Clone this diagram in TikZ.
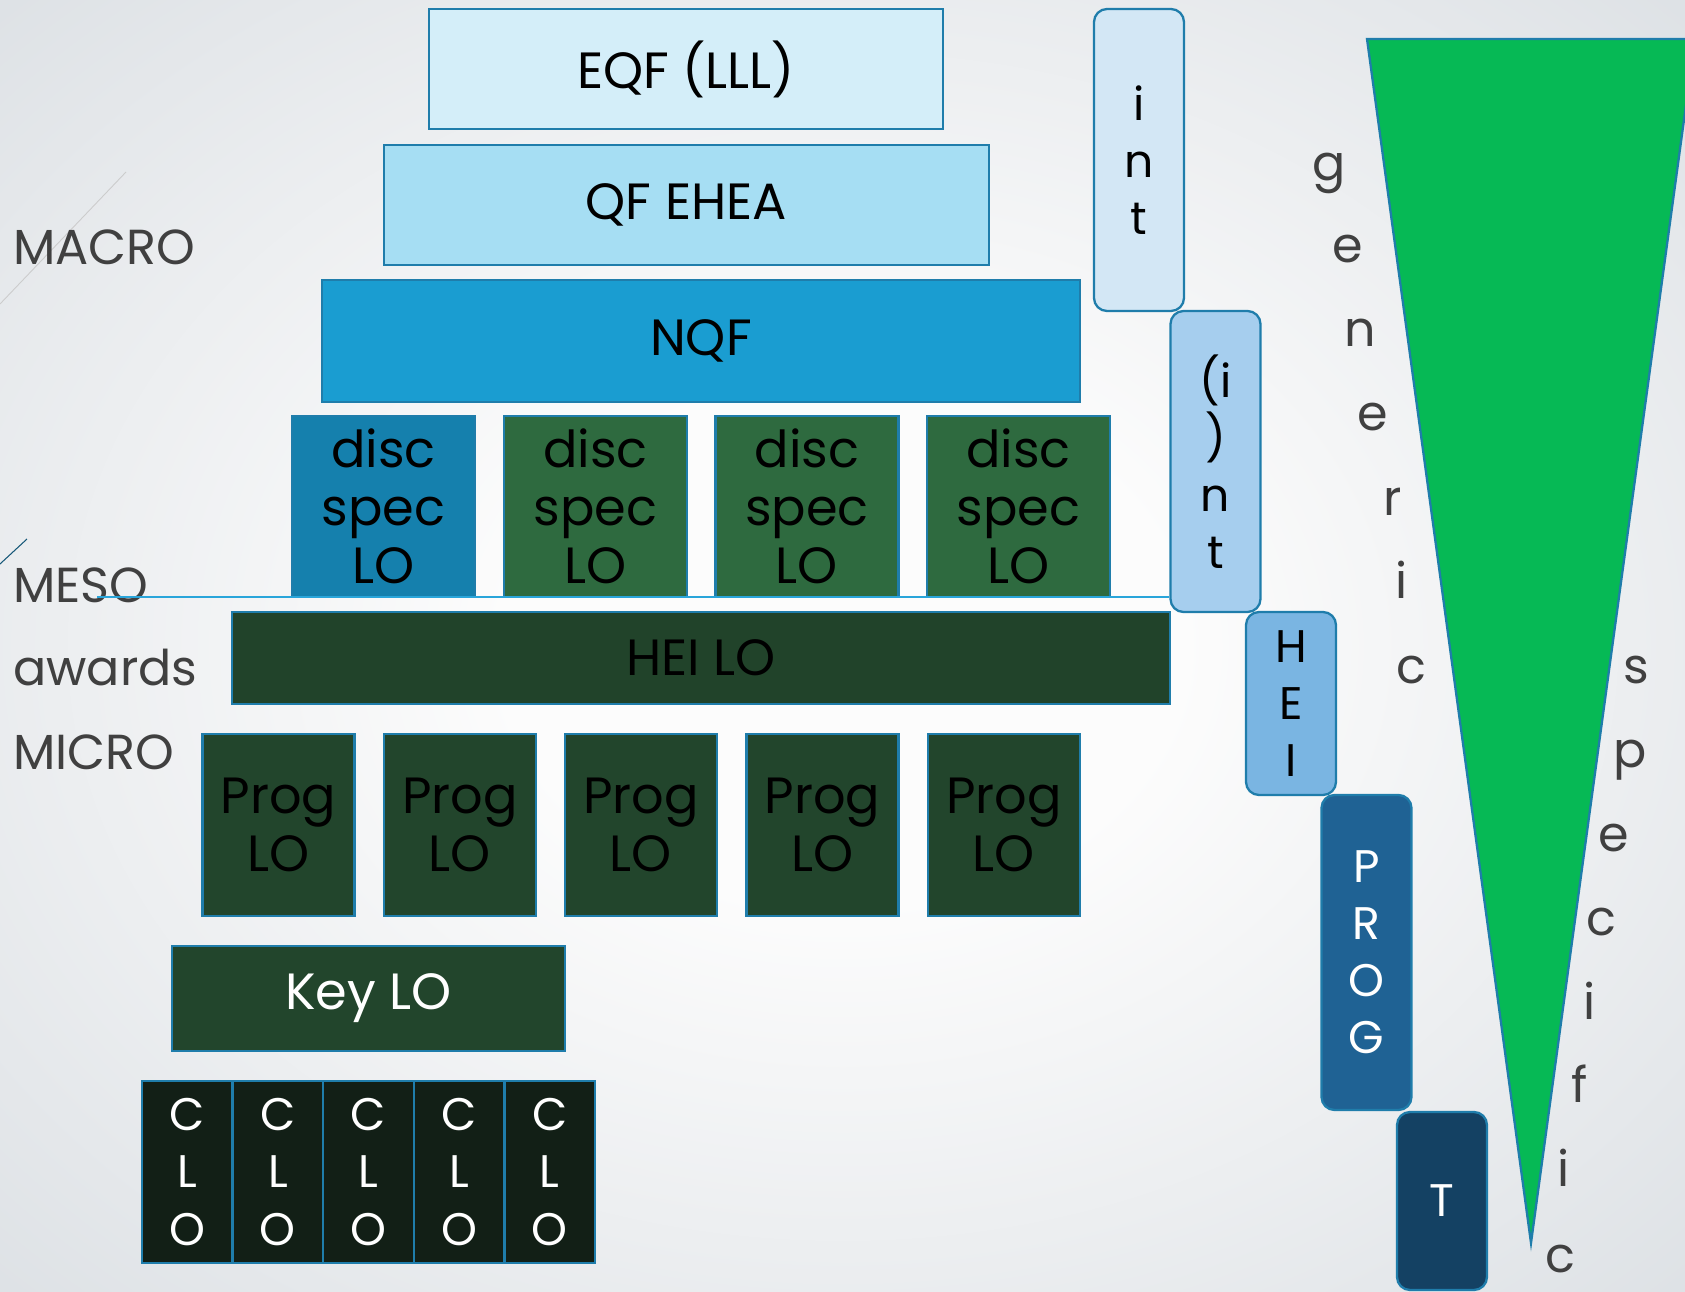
\documentclass[tikz,border=0pt]{standalone}
\usepackage{fontspec}
\setmainfont{Poppins}

\definecolor{edgeblue}{HTML}{1F7DAB}
\definecolor{eqffill}{HTML}{D4EEF9}
\definecolor{qffill}{HTML}{A6DEF3}
\definecolor{nqffill}{HTML}{1A9DD1}
\definecolor{discblue}{HTML}{1580AD}
\definecolor{discgreen}{HTML}{2E6A3F}
\definecolor{heigreen}{HTML}{21432A}
\definecolor{proggreen}{HTML}{22452C}
\definecolor{clofill}{HTML}{121F16}
\definecolor{intfill}{HTML}{D3E7F5}
\definecolor{iintfill}{HTML}{A6CEEE}
\definecolor{heifill}{HTML}{7AB5E2}
\definecolor{progfill}{HTML}{1F6294}
\definecolor{tfill}{HTML}{144163}
\definecolor{wedgegreen}{HTML}{06B955}
\definecolor{labelgrey}{HTML}{404040}
\definecolor{mesoblue}{HTML}{29A5DA}
\definecolor{bgmid}{HTML}{FCFCFC}
\definecolor{bgedge}{HTML}{DDE1E5}

% light slide backdrop, pale in the middle
\pgfdeclareradialshading{slidebg}{\pgfpoint{0bp}{0bp}}{%
  color(0bp)=(bgmid); color(10bp)=(bgmid); color(36bp)=(bgedge); color(50bp)=(bgedge)}

\newcommand\boxtext{\fontsize{29}{33}\selectfont}
\newcommand\lettertext{\fontsize{26}{32.5}\selectfont}
\newcommand\sidetext{\fontsize{28}{34}\selectfont}

\begin{document}
\begin{tikzpicture}[
        lvl/.style={draw=edgeblue, line width=1.3pt, inner sep=0pt, font=\boxtext, text=black},
        disc/.style={lvl, align=center, minimum width=3.66cm, minimum height=3.62cm},
        prog/.style={lvl, align=center, fill=proggreen, minimum width=3.04cm, minimum height=3.64cm},
        clo/.style={lvl, align=center, fill=clofill, text=white, font=\lettertext, minimum width=1.812cm, minimum height=3.64cm},
        bar/.style={draw=edgeblue, line width=1.3pt, rounded corners=0.26cm, inner sep=0pt, align=center, font=\lettertext, minimum width=1.8cm},
        side/.style={font=\sidetext, text=labelgrey, inner sep=0pt},
    ]
    % page and slide background
    \useasboundingbox (0,0) rectangle (33.70,-25.84);
    \shade[shading=slidebg] (0,0) rectangle (33.70,-25.84);
    \draw[color=black!20, line width=0.5pt] (0,-6.08) -- (2.52,-3.44);
    \draw[color=edgeblue!70!black, line width=0.6pt] (0,-11.28) -- (0.54,-10.78);

    % Column x-positions
    \def\dA{7.67}   % disc spec 1
    \def\dB{11.91}  % disc spec 2
    \def\dC{16.14}  % disc spec 3
    \def\dD{20.37}  % disc spec 4

    % ===== Frameworks =====
    \node[lvl, fill=eqffill, minimum width=10.28cm, minimum height=2.40cm] (eqf) at (13.72,-1.38) {EQF (LLL)};
    \node[lvl, fill=qffill, minimum width=12.10cm, minimum height=2.40cm] (qfehea) at (13.73,-4.10) {QF EHEA};
    \node[lvl, fill=nqffill, minimum width=15.16cm, minimum height=2.44cm] (nqf) at (14.02,-6.82) {NQF};

    % ===== Discipline specific =====
    \node[disc, fill=discblue] (disc1) at (\dA,-10.13) {disc\\spec\\LO};
    \node[disc, fill=discgreen] (disc2) at (\dB,-10.13) {disc\\spec\\LO};
    \node[disc, fill=discgreen] (disc3) at (\dC,-10.13) {disc\\spec\\LO};
    \node[disc, fill=discgreen] (disc4) at (\dD,-10.13) {disc\\spec\\LO};

    % ===== Institution =====
    \node[lvl, fill=heigreen, minimum width=18.76cm, minimum height=1.84cm] (heilo) at (14.02,-13.16) {HEI LO};

    % ===== Programmes =====
    \node[prog] (prog1) at (5.57,-16.50) {Prog\\LO};
    \node[prog] (prog2) at (9.20,-16.50) {Prog\\LO};
    \node[prog] (prog3) at (12.82,-16.50) {Prog\\LO};
    \node[prog] (prog4) at (16.45,-16.50) {Prog\\LO};
    \node[prog] (prog5) at (20.08,-16.50) {Prog\\LO};

    \node[lvl, fill=proggreen, text=white, minimum width=7.86cm, minimum height=2.10cm] (keylo) at (7.37,-19.97) {Key LO};

    % ===== Course row =====
    \node[clo] (clo1) at (3.746,-23.44) {C\\L\\O};
    \node[clo] (clo2) at (5.558,-23.44) {C\\L\\O};
    \node[clo] (clo3) at (7.370,-23.44) {C\\L\\O};
    \node[clo] (clo4) at (9.182,-23.44) {C\\L\\O};
    \node[clo] (clo5) at (10.994,-23.44) {C\\L\\O};

    % ===== Level staircase =====
    \node[bar, fill=intfill, minimum height=6.04cm] (int) at (22.78,-3.20) {i\\n\\t};
    \node[bar, fill=iintfill, minimum height=6.02cm] (iint) at (24.31,-9.23) {(i\\)\\n\\t};
    \node[bar, fill=heifill, minimum height=3.66cm] (hei) at (25.82,-14.07) {H\\E\\I};
    \node[bar, fill=progfill, text=white, minimum height=6.30cm] (progbar) at (27.33,-19.05) {P\\R\\O\\G};
    \node[bar, fill=tfill, text=white, minimum height=3.56cm] (tbar) at (28.84,-24.02) {T};

    % ===== Level labels =====
    \node[side, anchor=base west] (macro) at (0.26,-5.30) {MACRO};
    \node[side, anchor=base west] (meso) at (0.26,-12.04) {MESO};
    \node[side, anchor=base west] (awards) at (0.26,-13.71) {awards};
    \node[side, anchor=base west] (micro) at (0.26,-15.39) {MICRO};

    % meso divider
    \coordinate (mesostart) at (1.94,-11.94);
    \draw[mesoblue, line width=1pt] (mesostart) -- (mesostart -| iint.west);

    % ===== generic -> specific wedge =====
    \filldraw[fill=wedgegreen, draw=edgeblue, line width=1.3pt] (27.34,-0.78) -- (33.90,-0.78) -- (30.62,-24.86) -- cycle;

    \node[side, anchor=base] (gen1) at (26.58,-3.61) {g};
    \node[side, anchor=base] (gen2) at (26.96,-5.26) {e};
    \node[side, anchor=base] (gen3) at (27.20,-6.94) {n};
    \node[side, anchor=base] (gen4) at (27.46,-8.62) {e};
    \node[side, anchor=base] (gen5) at (27.86,-10.30) {r};
    \node[side, anchor=base] (gen6) at (28.04,-11.97) {i};
    \node[side, anchor=base] (gen7) at (28.22,-13.67) {c};

    \node[side, anchor=base] (spec1) at (32.72,-13.67) {s};
    \node[side, anchor=base] (spec2) at (32.60,-15.34) {p};
    \node[side, anchor=base] (spec3) at (32.28,-17.02) {e};
    \node[side, anchor=base] (spec4) at (32.02,-18.70) {c};
    \node[side, anchor=base] (spec5) at (31.80,-20.38) {i};
    \node[side, anchor=base] (spec6) at (31.60,-22.05) {f};
    \node[side, anchor=base] (spec7) at (31.28,-23.73) {i};
    \node[side, anchor=base] (spec8) at (31.20,-25.44) {c};

    \end{tikzpicture}
\end{document}
